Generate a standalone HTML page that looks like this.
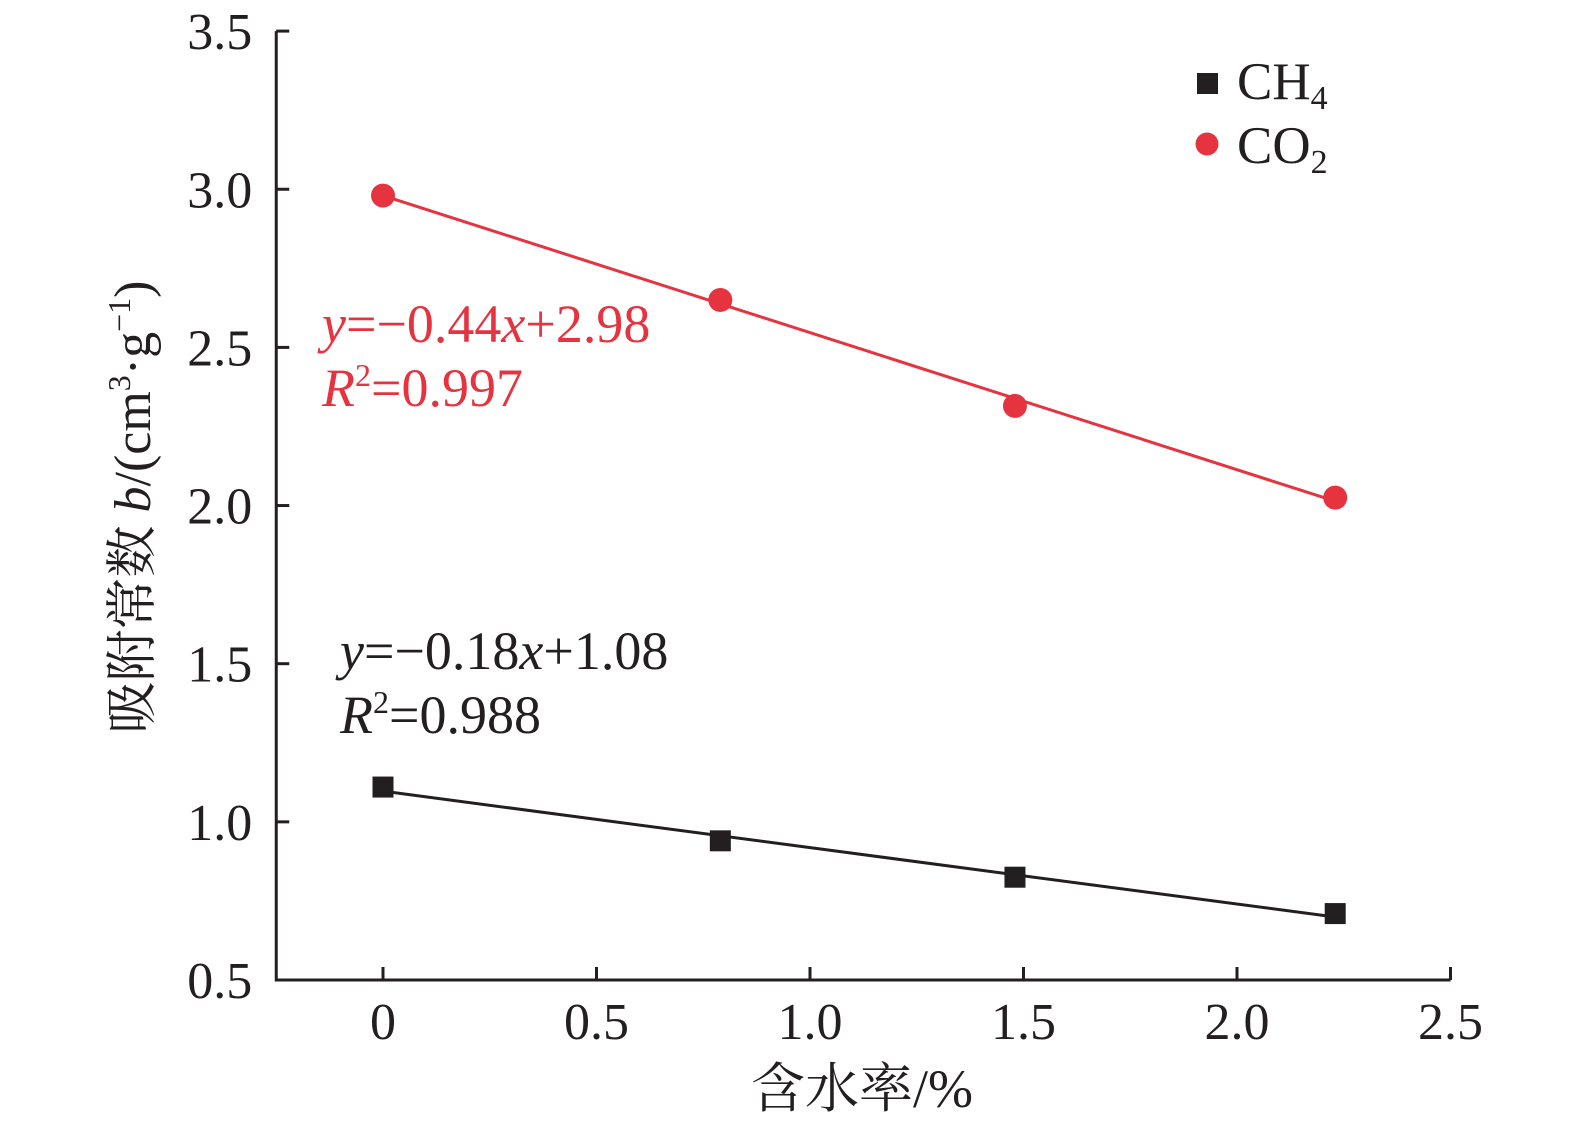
<!DOCTYPE html>
<html><head><meta charset="utf-8"><style>
html,body{margin:0;padding:0;background:#fff;}
svg{display:block;font-family:"Liberation Serif","Noto Serif CJK SC",serif;}
</style></head><body>
<svg id="chart" width="1575" height="1129" viewBox="0 0 1575 1129" xmlns="http://www.w3.org/2000/svg">
<g id="axes"></g>
<g id="marks"></g>
<g>
  <rect x="1197" y="73" width="21" height="21" fill="#231f20"/>
  <text x="1237" y="99" font-size="53" fill="#231f20">CH<tspan font-size="34" dy="10">4</tspan></text>
  <circle cx="1207" cy="144" r="11.5" fill="#e5333f"/>
  <text x="1237" y="163" font-size="53" fill="#231f20">CO<tspan font-size="34" dy="10">2</tspan></text>
</g>
<g fill="#e5333f" font-size="54">
  <text x="322" y="342"><tspan font-style="italic">y</tspan>=−0.44<tspan font-style="italic">x</tspan>+2.98</text>
  <text x="322" y="406"><tspan font-style="italic">R</tspan><tspan font-size="32" dy="-20">2</tspan><tspan dy="20">=0.997</tspan></text>
</g>
<g fill="#231f20" font-size="54">
  <text x="340" y="669"><tspan font-style="italic">y</tspan>=−0.18<tspan font-style="italic">x</tspan>+1.08</text>
  <text x="340" y="733"><tspan font-style="italic">R</tspan><tspan font-size="32" dy="-20">2</tspan><tspan dy="20">=0.988</tspan></text>
</g>
<text x="862" y="1107" font-size="54" text-anchor="middle" fill="#231f20">含水率/%</text>
<text transform="translate(150,507) rotate(-90)" font-size="52" text-anchor="middle" fill="#231f20">吸附常数 <tspan font-style="italic">b</tspan>/(cm<tspan font-size="32" dy="-20">3</tspan><tspan dy="20">·g</tspan><tspan font-size="32" dy="-20">−1</tspan><tspan dy="20">)</tspan></text>
</svg>
<script>
const xValues = [0, 0.79, 1.48, 2.23];
const co2Values = [2.98, 2.65, 2.315, 2.025];
const ch4Values = [1.11, 0.94, 0.825, 0.71];
const xTicks = [0, 0.5, 1.0, 1.5, 2.0, 2.5];
const xTickLabels = ["0", "0.5", "1.0", "1.5", "2.0", "2.5"];
const yTicks = [0.5, 1.0, 1.5, 2.0, 2.5, 3.0, 3.5];
const yTickLabels = ["0.5", "1.0", "1.5", "2.0", "2.5", "3.0", "3.5"];

const NS = "http://www.w3.org/2000/svg";
const X0 = 383, XS = 427, XMIN = -0.25, XMAX = 2.5;
const Y0 = 980, YS = 316.3, YMIN = 0.5, YMAX = 3.5;
function sx(v){ return X0 + v * XS; }
function sy(v){ return Y0 - (v - YMIN) * YS; }
function mk(tag, attrs, parent){
  const e = document.createElementNS(NS, tag);
  for (const k in attrs) e.setAttribute(k, attrs[k]);
  parent.appendChild(e); return e;
}
const axes = document.getElementById('axes');
const marks = document.getElementById('marks');
const ink = "#231f20";
let l = mk('line', {x1:sx(XMIN), y1:sy(YMIN), x2:sx(XMAX), y2:sy(YMIN), stroke:ink, 'stroke-width':3}, axes);


l = mk('line', {x1:sx(XMIN), y1:sy(YMIN)+1.5, x2:sx(XMIN), y2:sy(YMAX), stroke:ink, 'stroke-width':3}, axes);


xTicks.forEach((t, i) => {
  const tk = mk('line', {x1:sx(t), y1:sy(YMIN), x2:sx(t), y2:sy(YMIN)-13, stroke:ink, 'stroke-width':3}, axes);
  
  
  const tx = mk('text', {x:sx(t), y:sy(YMIN)+59, 'font-size':52, 'text-anchor':'middle', fill:ink}, axes);
  tx.textContent = xTickLabels[i];
  
  
});
yTicks.forEach((t, i) => {
  const tk = mk('line', {x1:sx(XMIN), y1:sy(t), x2:sx(XMIN)+13, y2:sy(t), stroke:ink, 'stroke-width':3}, axes);
  
  
  const tx = mk('text', {x:sx(XMIN)-24, y:sy(t)+18, 'font-size':52, 'text-anchor':'end', fill:ink}, axes);
  tx.textContent = yTickLabels[i];
  
  
});
function fit(xs, ys){
  const n = xs.length, mx = xs.reduce((a,b)=>a+b)/n, my = ys.reduce((a,b)=>a+b)/n;
  let num=0, den=0;
  for (let i=0;i<n;i++){ num += (xs[i]-mx)*(ys[i]-my); den += (xs[i]-mx)**2; }
  const m = num/den; return [m, my - m*mx];
}
function series(vals, color, shape, name){
  const [m, b] = fit(xValues, vals);
  const x1 = xValues[0], x2 = xValues[xValues.length-1];
  const ln = mk('line', {x1:sx(x1), y1:sy(m*x1+b), x2:sx(x2), y2:sy(m*x2+b), stroke:color, 'stroke-width':3}, marks);
  
  
  vals.forEach((v, i) => {
    let p;
    if (shape === 'square') p = mk('rect', {x:sx(xValues[i])-10.5, y:sy(v)-10.5, width:21, height:21, fill:color}, marks);
    else p = mk('circle', {cx:sx(xValues[i]), cy:sy(v), r:12, fill:color}, marks);
    
    
  });
}
series(co2Values, "#e5333f", 'circle', 'co2');
series(ch4Values, ink, 'square', 'ch4');
</script>
</body></html>
